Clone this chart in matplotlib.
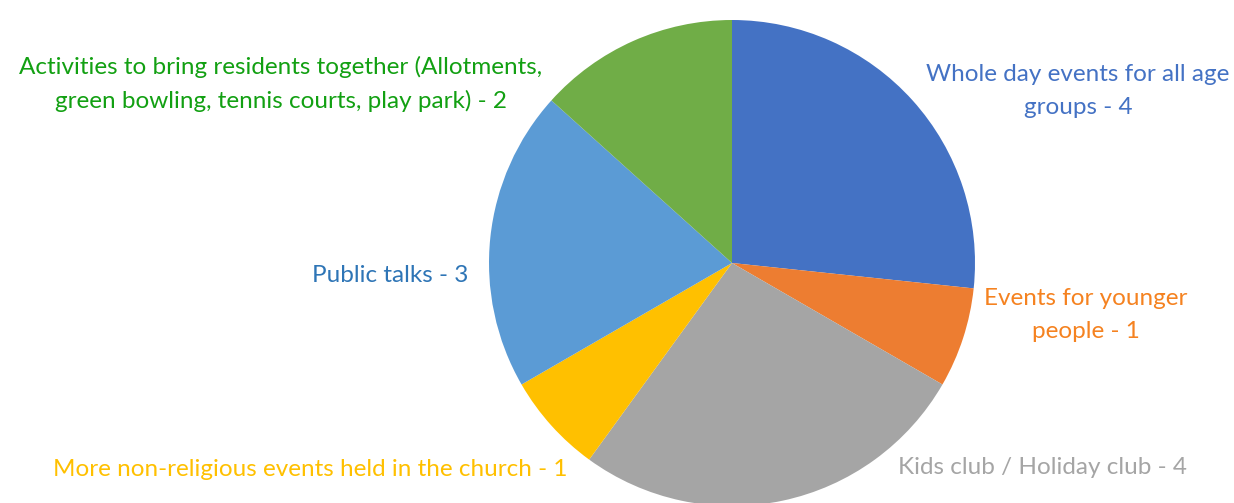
import matplotlib.pyplot as plt

# Survey responses: suggested community events
categories = [
    "Whole day events for all age\ngroups - 4",
    "Events for younger\npeople - 1",
    "Kids club / Holiday club - 4",
    "More non-religious events held in the church - 1",
    "Public talks - 3",
    "Activities to bring residents together (Allotments,\ngreen bowling, tennis courts, play park) - 2",
]
counts = [4, 1, 4, 1, 3, 2]
slice_colors = ["#4472C4", "#ED7D31", "#A5A5A5", "#FFC000", "#5B9BD5", "#70AD47"]
label_colors = ["#4472C4", "#F58220", "#A5A5A5", "#FFC000", "#2E75B6", "#12A012"]
# label anchor points in figure pixels (centre of text block)
label_pos = [(1078, 91), (1086, 315), (1043, 468), (310, 470), (390, 275), (281, 84)]

W, H = 1234, 503
fig = plt.figure(figsize=(W / 100, H / 100), dpi=100)
fig.patch.set_facecolor("white")

cx, cy, r = 732, 263, 243
ax = fig.add_axes([(cx - r) / W, (H - cy - r) / H, 2 * r / W, 2 * r / H])
ax.pie(counts, colors=slice_colors, startangle=90, counterclock=False,
       radius=1.0, wedgeprops=dict(linewidth=0))
ax.set_xlim(-1, 1)
ax.set_ylim(-1, 1)
ax.set_aspect("equal")
ax.axis("off")

for text, col, (px, py) in zip(categories, label_colors, label_pos):
    fig.text(px / W, 1 - py / H, text, color=col, ha="center", va="center",
             multialignment="center", fontsize=17.5, family="Lato",
             linespacing=1.65)

fig.savefig("out.png", dpi=100, facecolor="white")
